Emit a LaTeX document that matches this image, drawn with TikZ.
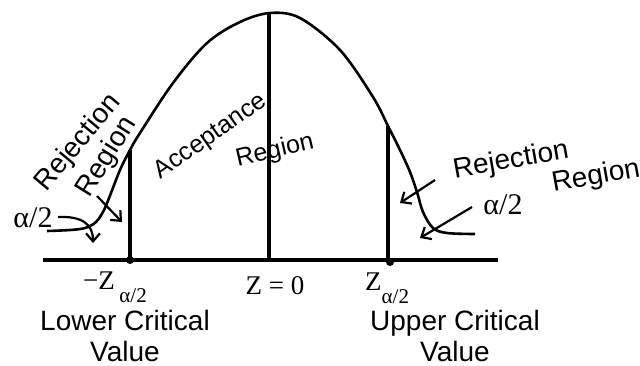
\documentclass[tikz,border=0pt]{standalone}
\usepackage{fontspec}
\setmainfont{Liberation Sans}
\newfontfamily\tnr{Liberation Serif}
\usetikzlibrary{arrows.meta}
\newcommand{\subal}{\raisebox{-13pt}{\fontsize{21}{21}\selectfont α/2}}

\begin{document}
\begin{tikzpicture}[x=1pt,y=-1pt,
  txt/.style={inner sep=0pt,font=\fontsize{28}{31}\selectfont},
  sml/.style={inner sep=0pt,font=\fontsize{25}{28}\selectfont},
  zlab/.style={inner sep=0pt,anchor=base west,font=\tnr\fontsize{27}{30}\selectfont},
  alab/.style={inner sep=0pt,font=\tnr\fontsize{30}{30}\selectfont},
  ptr/.style={line width=2.2pt,-{Straight Barb[length=8pt,width=14pt]}}]
\useasboundingbox (0,0) rectangle (640,365);
% axis and curve
\draw[line width=3.4pt] (43,260)--(498,260);
\draw[line width=2.6pt] plot[smooth,tension=0.55] coordinates {(47,231) (70,230) (85,228) (96,222)
  (104,210) (111,193) (120,170) (130,150) (140,133) (173,83) (207,43) (240,22) (270,13) (300,18)
  (340,50) (373,97) (388,126) (400,150) (410,172) (417,192) (423,212) (433,228) (447,233) (475,234)};
\draw[line width=3.4pt] (130,150)--(130,260);
\draw[line width=3.4pt] (269,13)--(269,260);
\draw[line width=3.4pt] (388,126)--(388,260);
\fill (130,260) circle (4);
\fill (390,262) circle (4);
% labels on the axis
\node[zlab] (zlo) at (83,289) {−Z\,\subal};
\node[zlab,anchor=base] (zmid) at (275,294) {Z = 0};
\node[zlab] (zhi) at (365,290) {Z\subal};
\node[txt,align=center,anchor=base] (lcv) at (125,361) {Lower Critical\\Value};
\node[txt,align=center,anchor=base] (ucv) at (455,361) {Upper Critical\\Value};
% regions
\node[txt,rotate=50] (rejl) at (78,143) {Rejection};
\node[txt,rotate=58] (regl) at (107,157) {Region};
\node[sml,rotate=35] (acc) at (211,137) {Acceptance};
\node[sml,rotate=13] (regc) at (275,151) {Region};
\node[txt,rotate=10] (rejr) at (511,161) {Rejection};
\node[txt,rotate=10] (regr) at (596,177) {Region};
\node[alab] (all) at (33,218) {α/2};
\node[alab] (alr) at (503,205) {α/2};
% pointers
\coordinate (p1) at (97,196); \coordinate (q1) at (122,222);
\coordinate (p2) at (58,217); \coordinate (q2) at (93,243);
\coordinate (p3) at (435,180); \coordinate (q3) at (400,203);
\coordinate (p4) at (472,207); \coordinate (q4) at (420,238);
\draw[ptr] (p1)--(q1);
\draw[ptr] (p2) .. controls (82,216) and (93,224) .. (q2);
\draw[ptr] (p3)--(q3);
\draw[ptr] (p4)--(q4);
\end{tikzpicture}
\end{document}
